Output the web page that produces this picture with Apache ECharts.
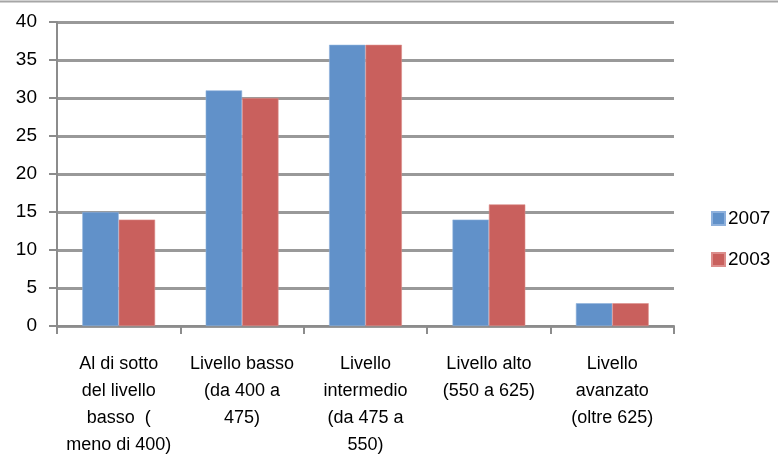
<!DOCTYPE html>
<html>
<head>
<meta charset="utf-8">
<script src="https://cdn.jsdelivr.net/npm/echarts@6/dist/echarts.min.js"></script>
<style>
html,body{margin:0;padding:0;background:#fff;}
#c{width:778px;height:455px;}
</style>
</head>
<body>
<div id="c"></div>
<script>
const categories = [
  "Al di sotto\ndel livello\nbasso  (\nmeno di 400)",
  "Livello basso\n(da 400 a\n475)",
  "Livello\nintermedio\n(da 475 a\n550)",
  "Livello alto\n(550 a 625)",
  "Livello\navanzato\n(oltre 625)"
];
const seriesNames = ["2007", "2003"];
const values2007 = [15, 31, 37, 14, 3];
const values2003 = [14, 30, 37, 16, 3];
const yTicks = [0, 5, 10, 15, 20, 25, 30, 35, 40];

const chart = echarts.init(document.getElementById('c'));
const font = 'Liberation Sans, Arial, sans-serif';
const axisGray = '#8c8c8c';
chart.setOption({
  animation: false,
  backgroundColor: '#fff',
  textStyle: { fontFamily: font },
  grid: { left: 57, right: 104, top: 22, bottom: 129, containLabel: false, outerBoundsMode: 'none' },
  legend: {
    orient: 'vertical',
    left: 706,
    top: 204,
    itemWidth: 13,
    itemHeight: 13,
    itemGap: 22,
    icon: 'rect',
    textStyle: { fontSize: 19, color: '#000', fontFamily: font, padding: [0,0,0,-2] },
    data: seriesNames
  },
  xAxis: {
    type: 'category',
    data: categories,
    axisLine: { lineStyle: { color: axisGray, width: 2 } },
    axisTick: { show: true, length: 8, lineStyle: { color: axisGray, width: 2 } },
    axisLabel: { interval: 0, margin: 25, color: '#000', fontSize: 18, lineHeight: 27, fontFamily: font, align: 'center' }
  },
  yAxis: {
    type: 'value',
    min: yTicks[0],
    max: yTicks[yTicks.length - 1],
    interval: 5,
    axisLine: { show: true, lineStyle: { color: axisGray, width: 2 } },
    axisTick: { show: true, length: 8, lineStyle: { color: axisGray, width: 2 } },
    axisLabel: { margin: 20, color: '#000', fontSize: 19, fontFamily: font },
    splitLine: { lineStyle: { color: '#999999', width: 3 } }
  },
  series: [
    {
      name: seriesNames[0], type: 'bar', data: values2007,
      barGap: '0%', barCategoryGap: '41%',
      itemStyle: { color: '#6191c9', borderColor: '#8fb1dc', borderWidth: 0.6 }
    },
    {
      name: seriesNames[1], type: 'bar', data: values2003,
      barGap: '0%', barCategoryGap: '41%',
      itemStyle: { color: '#c9605d', borderColor: '#dc8e8c', borderWidth: 0.6 }
    }
  ],
  graphic: [
    { type: 'line', shape: { x1: 0, y1: 1.5, x2: 778, y2: 1.5 }, style: { stroke: '#a6a6a6', lineWidth: 2 } }
  ]
});
</script>
</body>
</html>
